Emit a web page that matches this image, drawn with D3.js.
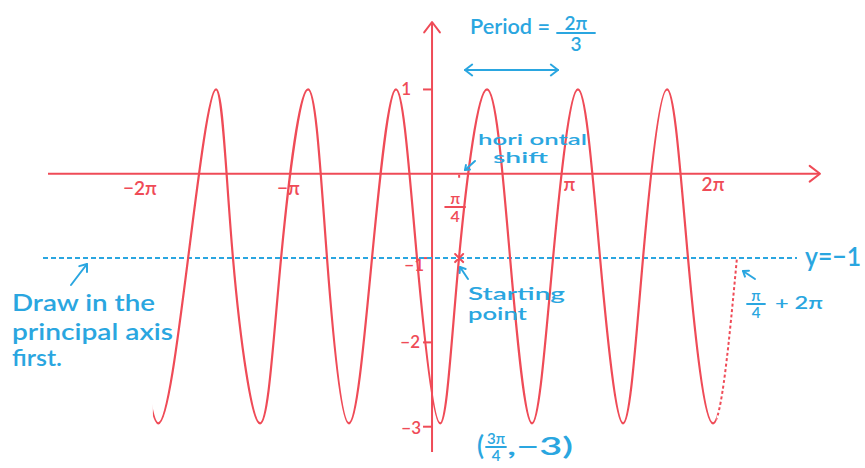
<!DOCTYPE html>
<html>
<head>
<meta charset="utf-8">
<script src="https://cdn.jsdelivr.net/npm/d3@7"></script>
<style>
  html, body { margin: 0; padding: 0; background: #fff; }
  svg { display: block; }
  text { font-family: 'Lato', 'Noto Sans', sans-serif; }
</style>
</head>
<body>
<svg></svg>
<script>
'use strict'

const width = 865,
  height = 468

const red = '#ef4b57'
const blue = '#2aa6e0'

// x values are in multiples of pi
const xTicks = [-2, -1, 1, 2]
const xTickLabels = ['−2π', '−π', 'π', '2π']
const yTicks = [1, -1, -2, -3]
const yTickLabels = ['1', '−1', '−2', '−3']

// y = 2sin(3(x - π/4)) - 1
// first point is the lead-in of the little hook on the left, last one is
// where the dotted part meets the principal axis (π/4 + 2π)
const curveX = [-2.19, -2.02, -1.80, -1.594, -1.469, -1.269, -1.114, -0.915, -0.775, -0.613,
  -0.443, -0.266, -0.111, 0.06, 0.199, 0.406, 0.576, 0.738, 0.893, 1.077,
  1.24, 1.41, 1.557, 1.734, 1.889, 2.074, 2.25]
const curveY = [-1, -2.96, -1, 1, -1, -2.96, -1, 1, -1, -2.96,
  -1, 1, -1, -2.96, -1, 1, -1, -2.96, -1, 1,
  -1, -2.96, -1, 1, -1, -2.96, -1]

// solid between these, dotted after
const solidFrom = -2.06,
  solidTo = 2.1

const principalAxis = -1
const startPoint = [0.2, -1]
const shiftMark = 0.2

const svg = d3.select('svg')
  .attr('width', width)
  .attr('height', height)

const xScale = d3.scaleLinear()
  .domain([-2.834, 2.863])
  .range([48, 820])

const yScale = d3.scaleLinear()
  .domain([1.8, -3.3])
  .range([22, 452])

const x0 = xScale(0),
  y0 = yScale(0)

function arrowHead(g, x1, y1, x2, y2, size, color) {
  const a = Math.atan2(y2 - y1, x2 - x1)
  const spread = 0.65
  g.append('path')
    .attr('d', 'M' + (x2 - size * Math.cos(a - spread)) + ',' + (y2 - size * Math.sin(a - spread)) +
      'L' + x2 + ',' + y2 +
      'L' + (x2 - size * Math.cos(a + spread)) + ',' + (y2 - size * Math.sin(a + spread)))
    .attr('fill', 'none')
    .attr('stroke', color)
    .attr('stroke-width', 2)
    .attr('stroke-linecap', 'round')
    .attr('stroke-linejoin', 'round')
}

function arrow(g, x1, y1, x2, y2, size, color) {
  g.append('line')
    .attr('x1', x1).attr('y1', y1)
    .attr('x2', x2).attr('y2', y2)
    .attr('stroke', color)
    .attr('stroke-width', 2)
    .attr('stroke-linecap', 'round')
  arrowHead(g, x1, y1, x2, y2, size, color)
}

function label(g, str, x, y, size, color, opts) {
  opts = opts || {}
  const t = g.append('text')
    .attr('x', x)
    .attr('y', y)
    .attr('font-size', size)
    .attr('font-weight', opts.weight || 600)
    .attr('fill', color)
    .attr('text-anchor', opts.anchor || 'start')
    .text(str)
  if (opts.len) {
    t.attr('textLength', opts.len).attr('lengthAdjust', 'spacingAndGlyphs')
  }
  return t
}

function fraction(g, top, bottom, cx, yLine, w, size, color) {
  label(g, top, cx, yLine - 3, size, color, { anchor: 'middle' })
  g.append('line')
    .attr('x1', cx - w / 2).attr('x2', cx + w / 2)
    .attr('y1', yLine).attr('y2', yLine)
    .attr('stroke', color)
    .attr('stroke-width', 1.8)
    .attr('stroke-linecap', 'round')
  label(g, bottom, cx, yLine + size - 1, size, color, { anchor: 'middle' })
}

// clip regions for the solid and dotted parts of the curve
const defs = svg.append('defs')
defs.append('clipPath').attr('id', 'solid-clip')
  .append('rect')
  .attr('x', xScale(solidFrom)).attr('y', 0)
  .attr('width', xScale(solidTo) - xScale(solidFrom)).attr('height', height)
defs.append('clipPath').attr('id', 'dotted-clip')
  .append('rect')
  .attr('x', xScale(solidTo)).attr('y', 0)
  .attr('width', width - xScale(solidTo)).attr('height', height)

// axes
const axes = svg.append('g').attr('class', 'axes')

axes.append('line')
  .attr('x1', xScale.range()[0]).attr('x2', xScale.range()[1])
  .attr('y1', y0).attr('y2', y0)
  .attr('stroke', red)
  .attr('stroke-width', 2)
arrowHead(axes, 0, y0, xScale.range()[1], y0, 13, red)

axes.append('line')
  .attr('x1', x0).attr('x2', x0)
  .attr('y1', yScale.range()[0]).attr('y2', yScale.range()[1])
  .attr('stroke', red)
  .attr('stroke-width', 2)
arrowHead(axes, x0, y0, x0, yScale.range()[0], 13, red)

// y ticks
const yLabelNudge = [[-21, 6], [-8, 13], [-12, 6], [-11, 7]]
yTicks.forEach((t, i) => {
  axes.append('line')
    .attr('x1', x0 - 9).attr('x2', x0)
    .attr('y1', yScale(t)).attr('y2', yScale(t))
    .attr('stroke', red)
    .attr('stroke-width', 2)
  label(axes, yTickLabels[i], x0 + yLabelNudge[i][0], yScale(t) + yLabelNudge[i][1], 17, red, { anchor: 'end' })
})

// x tick labels (hand placed, so nudged)
const xLabelNudge = [-21, -8, 2, 10]
xTicks.forEach((t, i) => {
  label(axes, xTickLabels[i], xScale(t) + xLabelNudge[i], y0 + (i < 2 ? 21 : 17), 19, red, { anchor: 'middle' })
})

// π/4 mark
axes.append('line')
  .attr('x1', xScale(shiftMark)).attr('x2', xScale(shiftMark))
  .attr('y1', y0 + 1).attr('y2', y0 + 4)
  .attr('stroke', red)
  .attr('stroke-width', 2)
fraction(axes, 'π', '4', xScale(shiftMark) - 4, 207, 20, 16, red)

// principal axis
svg.append('line')
  .attr('x1', 43).attr('x2', 797)
  .attr('y1', yScale(principalAxis)).attr('y2', yScale(principalAxis))
  .attr('stroke', blue)
  .attr('stroke-width', 2)
  .attr('stroke-dasharray', '5,3')

// the curve
const points = curveX.map((d, i) => [d, curveY[i]])

const line = d3.line()
  .x(d => xScale(d[0]))
  .y(d => yScale(d[1]))
  .curve(d3.curveNatural)

svg.append('path')
  .datum(points)
  .attr('d', line)
  .attr('clip-path', 'url(#solid-clip)')
  .attr('fill', 'none')
  .attr('stroke', red)
  .attr('stroke-width', 2.2)
  .attr('stroke-linecap', 'round')

svg.append('path')
  .datum(points)
  .attr('d', line)
  .attr('clip-path', 'url(#dotted-clip)')
  .attr('fill', 'none')
  .attr('stroke', red)
  .attr('stroke-width', 2)
  .attr('stroke-dasharray', '3,2.5')

// starting point cross
const sx = xScale(startPoint[0]),
  sy = yScale(startPoint[1])
svg.append('path')
  .attr('d', 'M' + (sx - 4) + ',' + (sy - 4) + 'L' + (sx + 4) + ',' + (sy + 4) +
    'M' + (sx + 4) + ',' + (sy - 4) + 'L' + (sx - 4) + ',' + (sy + 4))
  .attr('stroke', red)
  .attr('stroke-width', 2)
  .attr('stroke-linecap', 'round')

// annotations
const notes = svg.append('g').attr('class', 'notes')

label(notes, 'Period =', 470, 34, 21, blue, { len: 80 })
fraction(notes, '2π', '3', 576, 33, 38, 19, blue)
arrow(notes, 512, 70, 558, 70, 9, blue)
arrow(notes, 512, 70, 465, 70, 9, blue)

label(notes, 'hori ontal', 478, 145, 16, blue, { len: 109 })
label(notes, 'shift', 493, 163, 16, blue, { len: 55 })
arrow(notes, 475, 161, 465, 170, 5, blue)

label(notes, 'Starting', 468, 300, 18, blue, { len: 97 })
label(notes, 'point', 468, 320, 18, blue, { len: 59 })
arrow(notes, 468, 279, 460, 267, 6, blue)

label(notes, 'Draw in the', 12, 311, 22, blue, { len: 143 })
label(notes, 'principal axis', 12, 340, 22, blue, { len: 161 })
label(notes, 'first.', 12, 366, 22, blue, { len: 50 })
arrow(notes, 71, 285, 87, 264, 8, blue)

label(notes, 'y=−1', 805, 266, 27, blue, { len: 56 })

fraction(notes, 'π', '4', 756, 304, 18, 15, blue)
label(notes, '+ 2π', 775, 309, 18, blue, { len: 48 })
arrow(notes, 755, 279, 743, 271, 6, blue)

label(notes, '(', 477, 455, 26, blue)
fraction(notes, '3π', '4', 496, 447, 20, 15, blue)
label(notes, ',−3)', 507, 455, 25, blue, { len: 66 })
</script>
</body>
</html>
